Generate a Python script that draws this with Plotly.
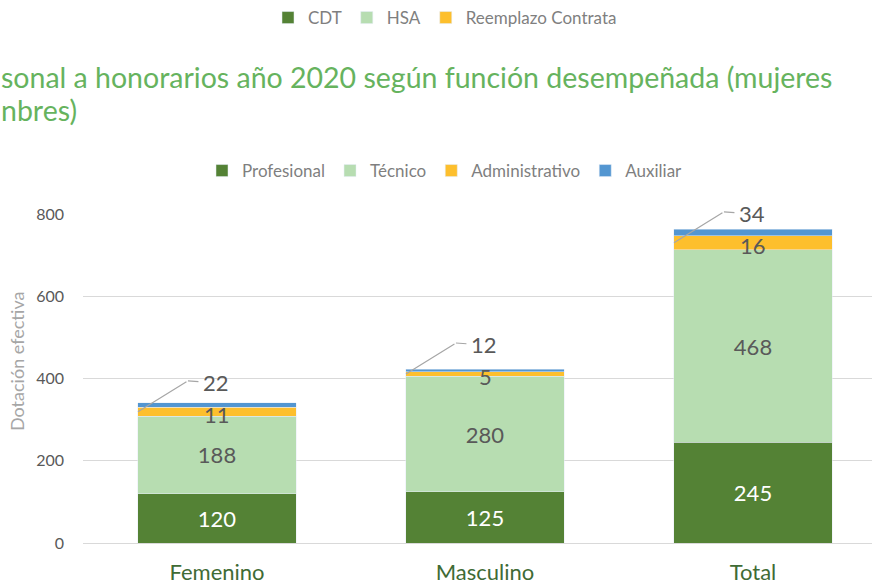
import plotly.graph_objects as go

# ---- data ----
categories = ["Femenino", "Masculino", "Total"]
profesional = [120, 125, 245]
tecnico = [188, 280, 468]
administrativo = [22, 12, 34]
auxiliar = [11, 5, 16]

y_ticks = [0, 200, 400, 600, 800]
other_legend = ["CDT", "HSA", "Reemplazo Contrata"]

title_line1 = "sonal a honorarios año 2020 según función desempeñada (mujeres"
title_line2 = "nbres)"
y_title = "Dotación efectiva"

# ---- style ----
C_PROF = "#548235"
C_TEC = "#B7DDB1"
C_ADM = "#FDBF2D"
C_AUX = "#5396D1"
FONT = "Lato"
W, H = 872, 586
ML, MR, MT, MB = 83, 0, 214, 43
PW, PH = W - ML - MR, H - MT - MB
BARGAP = 0.41
HALF = (1 - BARGAP) / 2
CAT_PX = 268
x_hi = -0.5 + PW / CAT_PX


def py(pix):
    """paper y for a pixel row measured from the top"""
    return (H - MB - pix) / PH


def px(pix):
    return (pix - ML) / PW


fig = go.Figure()
fig.add_trace(go.Bar(x=categories, y=profesional, name="Profesional", marker_color=C_PROF,
                     text=profesional, textposition="inside", insidetextanchor="middle",
                     textfont=dict(family=FONT, size=22, color="white")))
fig.add_trace(go.Bar(x=categories, y=tecnico, name="Técnico", marker_color=C_TEC,
                     text=tecnico, textposition="inside", insidetextanchor="middle",
                     textfont=dict(family=FONT, size=22, color="#595959")))
fig.add_trace(go.Bar(x=categories, y=administrativo, name="Administrativo", marker_color=C_ADM))
fig.add_trace(go.Bar(x=categories, y=auxiliar, name="Auxiliar", marker_color=C_AUX))

# legend of the other (cropped) chart at the top
for name, col in zip(other_legend, [C_PROF, C_TEC, C_ADM]):
    fig.add_trace(go.Bar(x=[None], y=[None], name=name, marker_color=col, legend="legend2",
                         hoverinfo="skip"))

annotations = []
for i, cat in enumerate(categories):
    base = profesional[i] + tecnico[i]
    ymid = base + administrativo[i] / 2
    # leader line (diagonal part)
    annotations.append(dict(x=i - HALF, y=ymid, xref="x", yref="y", text=" ",
                            font=dict(size=1), showarrow=True, arrowhead=0, arrowwidth=1.2,
                            arrowcolor="#A6A6A6", ax=50, ay=-31))
    # label + horizontal part
    annotations.append(dict(x=i - HALF, y=ymid, xref="x", yref="y", text=str(administrativo[i]),
                            font=dict(family=FONT, size=22, color="#595959"),
                            showarrow=True, arrowhead=0, arrowwidth=1.2, arrowcolor="#A6A6A6",
                            xshift=50, yshift=31, ax=28, ay=2, startstandoff=3))
    # auxiliar label
    annotations.append(dict(x=i, y=ymid, xref="x", yref="y", text=str(auxiliar[i]),
                            font=dict(family=FONT, size=22, color="#595959"),
                            showarrow=False, yshift=-3))

# title (cropped at the left in the reference)
for txt, yc in [(title_line1, 77), (title_line2, 110)]:
    annotations.append(dict(xref="paper", yref="paper", x=px(-1), y=py(yc),
                            xanchor="left", yanchor="middle", align="left",
                            text=txt, showarrow=False,
                            font=dict(family=FONT, size=28.5, color="#66B35E")))
# y axis title
annotations.append(dict(xref="paper", yref="paper", x=px(17), y=py(362),
                        xanchor="center", yanchor="middle", textangle=-90, text=y_title,
                        showarrow=False, font=dict(family=FONT, size=18, color="#A6A6A6")))

fig.update_layout(
    width=W, height=H,
    margin=dict(l=ML, r=MR, t=MT, b=MB),
    paper_bgcolor="white", plot_bgcolor="white",
    barmode="stack", bargap=BARGAP,
    font=dict(family=FONT, color="#595959"),
    showlegend=True,
    legend=dict(orientation="h", x=px(445), xanchor="center",
                y=py(171), yanchor="middle", font=dict(family=FONT, size=17, color="#7F7F7F"),
                itemwidth=30, traceorder="normal", bgcolor="rgba(0,0,0,0)"),
    legend2=dict(orientation="h", x=px(445), xanchor="center",
                 y=py(18), yanchor="middle",
                 font=dict(family=FONT, size=17, color="#7F7F7F"),
                 itemwidth=30, traceorder="normal", bgcolor="rgba(0,0,0,0)"),
    annotations=annotations,
)
fig.update_xaxes(type="category", range=[-0.5, x_hi], showgrid=False, showline=False,
                 zeroline=False, ticks="", tickfont=dict(family=FONT, size=22, color="#3F6B35"),
                 ticklabelstandoff=14)
fig.update_yaxes(range=[0, 800], tickvals=y_ticks, showgrid=True, gridcolor="#D9D9D9",
                 gridwidth=1, zeroline=True, zerolinecolor="#D9D9D9", zerolinewidth=1,
                 showline=False, ticks="", tickfont=dict(family=FONT, size=16, color="#595959"),
                 ticklabelstandoff=18)

fig.write_html("out.html", config={"displayModeBar": False},
               post_script="document.body.style.margin='0px';")
